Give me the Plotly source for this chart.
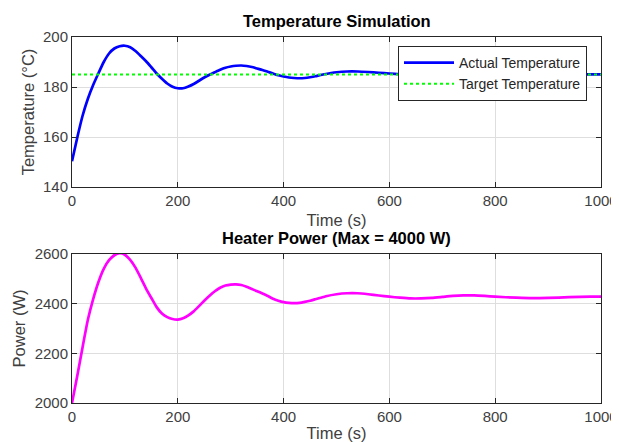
import plotly.graph_objects as go

time_temp = [0, 10, 20, 30, 40, 50, 60, 70, 80, 90, 100, 110, 120, 130, 140, 150, 160, 170, 180, 190,
             200, 210, 220, 230, 240, 250, 260, 270, 280, 290, 300, 310, 320, 330, 340, 350, 360, 370,
             380, 390, 400, 410, 420, 430, 440, 450, 460, 470, 480, 490, 500, 520, 540, 560, 580, 600,
             620, 640, 660, 680, 700, 720, 740, 760, 780, 800, 840, 880, 920, 960, 1000]
actual_temp = [150.3, 159.8, 168.5, 175.3, 180.8, 185.5, 190.0, 193.4, 195.4, 196.3, 196.5, 195.9, 194.4,
               192.4, 190.3, 187.9, 185.4, 183.3, 181.4, 180.1, 179.5, 179.5, 180.2, 181.2, 182.5, 183.8,
               184.9, 185.9, 186.9, 187.7, 188.2, 188.5, 188.6, 188.4, 188.0, 187.4, 186.8, 186.1, 185.4,
               184.7, 184.2, 183.8, 183.6, 183.5, 183.6, 183.9, 184.3, 184.8, 185.2, 185.6, 185.9, 186.2,
               186.2, 186.0, 185.7, 185.4, 185.1, 184.9, 184.8, 184.8, 184.9, 185.0, 185.1, 185.2, 185.2,
               185.2, 185.1, 185.0, 185.0, 185.05, 185.05]
target_time = [0, 1000]
target_temp = [185, 185]

time_power = [0, 10, 20, 30, 40, 50, 60, 70, 80, 90, 100, 110, 120, 130, 140, 150, 160, 170, 180, 190,
              200, 210, 220, 230, 240, 250, 260, 270, 280, 290, 300, 310, 320, 330, 340, 350, 360, 370,
              380, 390, 400, 410, 420, 430, 440, 450, 460, 470, 480, 500, 520, 540, 560, 580, 600, 620,
              640, 660, 680, 700, 720, 740, 760, 780, 800, 840, 870, 900, 940, 980, 1000]
heater_power = [2000, 2110, 2225, 2335, 2418, 2487, 2540, 2575, 2595, 2603, 2597, 2576, 2545, 2504, 2461,
                2423, 2386, 2360, 2346, 2338, 2336, 2341, 2353, 2369, 2390, 2412, 2432, 2450, 2464, 2473,
                2477, 2478, 2475, 2468, 2459, 2450, 2441, 2431, 2420, 2412, 2406, 2403, 2402, 2403, 2407,
                2412, 2418, 2424, 2430, 2438, 2442, 2442, 2438, 2433, 2428, 2424, 2421, 2421, 2423, 2427,
                2431, 2433, 2433, 2431, 2428, 2424, 2422, 2423, 2426, 2428, 2428]

# figure sits at an 8px page offset, so the canvas is 8px smaller and positions are shifted by 8
OFF = 8
W, H = 619 - OFF, 442 - OFF
FONT = "Liberation Sans, Arial, sans-serif"
AX = "#262626"
TXT = "#404040"
GRID = "#dedede"


def px_x(v):
    return (v - OFF) / W


def px_y(v):
    return 1 - (v - OFF) / H


fig = go.Figure()
fig.add_trace(go.Scatter(x=time_temp, y=actual_temp, mode="lines", name="Actual Temperature",
                         line=dict(color="#0000ff", width=2.7, shape="spline", smoothing=0.5),
                         xaxis="x", yaxis="y"))
fig.add_trace(go.Scatter(x=target_time, y=target_temp, mode="lines", name="Target Temperature",
                         line=dict(color="#00ff00", width=2, dash="dot"), xaxis="x", yaxis="y"))
fig.add_trace(go.Scatter(x=time_power, y=heater_power, mode="lines", name="Heater Power",
                         line=dict(color="#ff00ff", width=2.7, shape="spline", smoothing=0.5),
                         xaxis="x2", yaxis="y2", showlegend=False))

xd = [px_x(72), px_x(601)]
axis_common = dict(showline=True, linecolor=AX, linewidth=1, mirror="allticks", ticks="inside",
                   ticklen=5, tickcolor=AX, showgrid=True, gridcolor=GRID, gridwidth=1,
                   zeroline=False, automargin=False,
                   tickfont=dict(family=FONT, size=15, color=TXT))
label_font = dict(family=FONT, size=16.5, color=TXT)
xt = [0, 200, 400, 600, 800, 1000]

fig.update_layout(
    width=W, height=H,
    margin=dict(l=0, r=0, t=0, b=0),
    paper_bgcolor="white", plot_bgcolor="white",
    font=dict(family=FONT, color=AX),
    xaxis=dict(domain=xd, range=[0, 1000], tickvals=xt, anchor="y",
               title=dict(text="Time (s)", font=label_font, standoff=6), **axis_common),
    yaxis=dict(domain=[px_y(187), px_y(37)], range=[140, 200], tickvals=[140, 160, 180, 200],
               anchor="x", title=dict(text="Temperature (°C)", font=label_font, standoff=4),
               **axis_common),
    xaxis2=dict(domain=xd, range=[0, 1000], tickvals=xt, anchor="y2",
                title=dict(text="Time (s)", font=label_font, standoff=6), **axis_common),
    yaxis2=dict(domain=[px_y(403), px_y(254)], range=[2000, 2600],
                tickvals=[2000, 2200, 2400, 2600], anchor="x2",
                title=dict(text="Power (W)", font=label_font, standoff=4), **axis_common),
    legend=dict(x=px_x(587), xanchor="right", y=px_y(46), yanchor="top",
                bgcolor="white", bordercolor=AX, borderwidth=1,
                font=dict(family=FONT, size=14, color="#262626"),
                tracegroupgap=0, itemwidth=50),
    annotations=[
        dict(text="<b>Temperature Simulation</b>", x=px_x(336.5), y=px_y(21), xref="paper", yref="paper",
             showarrow=False, font=dict(family=FONT, size=16.5, color="black"),
             xanchor="center", yanchor="middle"),
        dict(text="<b>Heater Power (Max = 4000 W)</b>", x=px_x(336.5), y=px_y(238), xref="paper",
             yref="paper", showarrow=False, font=dict(family=FONT, size=16.5, color="black"),
             xanchor="center", yanchor="middle"),
    ],
)

fig.write_html("out.html")
